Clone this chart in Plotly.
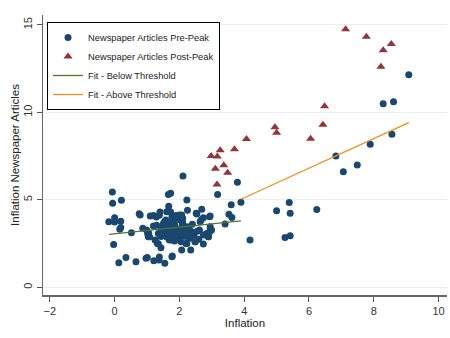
import plotly.graph_objects as go

# Pre-peak newspaper articles (blue dots)
pre_x = [-0.07, -0.06, 0.21, -0.18, 0.0, 0.0, 0.19, 0.16, 0.19, -0.03, 0.35, 0.13, 0.66, 0.52,
         0.76, 0.79, 0.87, 1.01, 0.99, 1.04, 1.05, 1.1, 1.2, 1.21, 1.2, 1.29, 1.35, 1.38, 1.37,
         1.38, 1.43, 1.43, 1.4, 1.51, 1.48, 1.55, 1.58, 1.62, 1.66, 1.73, 1.67, 1.73, 1.63, 1.73,
         1.78, 1.78, 1.69, 1.81, 1.9, 2.02, 2.07, 2.0, 1.97, 2.11, 2.23, 2.25, 2.07, 2.23, 2.35,
         2.15, 2.09, 2.23, 2.33, 2.38, 2.49, 2.52, 2.62, 2.69, 2.67, 2.74, 2.74, 2.84, 2.89, 2.93,
         2.97, 2.95, 3.18, 3.41, 3.53, 3.6, 3.62, 3.79, 3.9, 4.18, 5.0, 5.39, 5.42, 5.26, 5.42,
         6.24, 7.06, 6.83, 7.49, 7.89, 8.56, 8.29, 8.61, 9.08,
         1.3, 1.46, 1.54, 1.51, 1.61, 1.61, 1.77, 1.71, 1.77, 1.32, 1.25, 0.97, 1.77, 1.35, 1.42,
         1.02, 1.08, 2.54, 2.95, 2.64, 2.99, 2.93, 2.74, 2.2, 2.9, 2.48, 1.85, 1.9, 1.95, 2.0,
         2.05, 2.1, 2.15, 2.2, 2.3, 2.4, 2.45, 1.6, 1.65, 1.8, 1.85, 2.05, 2.3, 1.55, 1.45, 2.55,
         2.6, 1.9, 2.1]
pre_y = [5.45, 4.8, 4.98, 3.75, 3.98, 3.73, 3.78, 3.32, 3.42, 2.45, 1.71, 1.4, 1.46, 3.12,
         4.2, 4.13, 3.37, 1.7, 3.27, 2.89, 3.1, 4.08, 4.1, 1.52, 3.5, 4.02, 2.49, 4.12, 1.56,
         1.73, 2.26, 2.9, 4.3, 3.66, 3.1, 1.37, 3.85, 2.86, 5.31, 5.37, 4.63, 4.31, 3.68, 3.48,
         1.79, 3.2, 2.71, 2.91, 3.37, 3.85, 4.13, 4.13, 3.95, 6.36, 4.99, 4.41, 2.13, 2.5, 2.13,
         3.0, 3.56, 3.46, 2.8, 3.17, 2.6, 4.23, 3.27, 4.46, 3.85, 2.47, 3.97, 3.08, 2.89, 4.03,
         3.27, 3.46, 5.31, 3.62, 4.17, 4.72, 3.99, 6.0, 4.86, 2.7, 4.38, 4.84, 4.23, 2.84, 2.95,
         4.45, 6.6, 7.5, 6.99, 8.17, 8.74, 10.49, 10.6, 12.15,
         3.55, 3.46, 3.75, 3.18, 3.69, 4.32, 4.03, 3.08, 2.7, 2.51, 2.7, 1.66, 1.75, 3.08, 2.99,
         3.08, 2.89, 4.19, 4.07, 3.75, 3.27, 3.18, 2.99, 2.5, 2.89, 2.6, 3.6, 3.2, 3.0, 2.8,
         3.3, 3.7, 3.2, 2.9, 3.3, 3.6, 3.0, 3.3, 3.0, 3.8, 2.65, 2.6, 3.0, 2.95, 3.3, 3.2,
         2.75, 4.1, 3.95]

# Post-peak newspaper articles (red triangles)
post_x = [7.13, 7.77, 8.54, 8.29, 8.22, 6.48, 6.43, 4.95, 5.0, 6.05, 4.07, 3.70, 3.26, 2.98,
          3.17, 3.37, 3.11, 3.49, 3.16]
post_y = [14.74, 14.32, 13.9, 13.54, 12.6, 10.34, 9.29, 9.14, 8.83, 8.49, 8.47, 7.89, 7.83, 7.5,
          7.47, 6.97, 6.78, 6.55, 5.87]

# Fitted lines
fit_below_x = [-0.17, 3.9]
fit_below_y = [3.03, 3.8]
fit_above_x = [3.9, 9.08]
fit_above_y = [5.03, 9.41]

x_ticks = [-2, 0, 2, 4, 6, 8, 10]
y_ticks = [0, 5, 10, 15]

FONT = "Liberation Sans, Arial, Helvetica, sans-serif"

fig = go.Figure()
fig.add_trace(go.Scatter(x=pre_x, y=pre_y, mode="markers", name="Newspaper Articles Pre-Peak",
                         marker=dict(symbol="circle", size=7, color="#1a476f")))
fig.add_trace(go.Scatter(x=post_x, y=post_y, mode="markers", name="Newspaper Articles Post-Peak",
                         marker=dict(symbol="triangle-up", size=8, color="#90353b")))
fig.add_trace(go.Scatter(x=fit_below_x, y=fit_below_y, mode="lines", name="Fit - Below Threshold",
                         line=dict(color="#55752f", width=1.3)))
fig.add_trace(go.Scatter(x=fit_above_x, y=fit_above_y, mode="lines", name="Fit - Above Threshold",
                         line=dict(color="#f28e1c", width=1.3)))

fig.update_layout(
    width=450, height=338,
    margin=dict(l=43, r=3, t=15, b=43, autoexpand=False),
    paper_bgcolor="white", plot_bgcolor="white",
    font=dict(family=FONT, size=11, color="#222"),
    showlegend=True,
    legend=dict(x=0.01, y=0.975, xanchor="left", yanchor="top",
                bordercolor="#000", borderwidth=1, bgcolor="white",
                font=dict(family=FONT, size=9.3, color="#222"),
                tracegroupgap=0, itemwidth=30),
)
fig.update_xaxes(range=[-2.21, 10.26], tickvals=x_ticks, ticks="outside", ticklen=5,
                 tickcolor="#555", showline=True, linecolor="#666", linewidth=1.5,
                 showgrid=False, zeroline=False, automargin=False,
                 title=dict(text="Inflation", font=dict(size=11.5), standoff=0),
                 tickfont=dict(size=11, color="#333"))
fig.update_yaxes(range=[-0.44, 15.56], tickvals=y_ticks, ticks="outside", ticklen=5,
                 tickcolor="#555", showline=True, linecolor="#666", linewidth=1.5,
                 showgrid=True, gridcolor="#e8f0f2", gridwidth=1, zeroline=False,
                 tickangle=-90, automargin=False,
                 title=dict(text="Inflation Newspaper Articles", font=dict(size=11.5), standoff=0),
                 tickfont=dict(size=11, color="#333"))

fig.write_html(
    "out.html",
    config={"displayModeBar": False, "staticPlot": True},
    post_script="document.body.style.margin='0';document.body.style.overflow='hidden';",
)
